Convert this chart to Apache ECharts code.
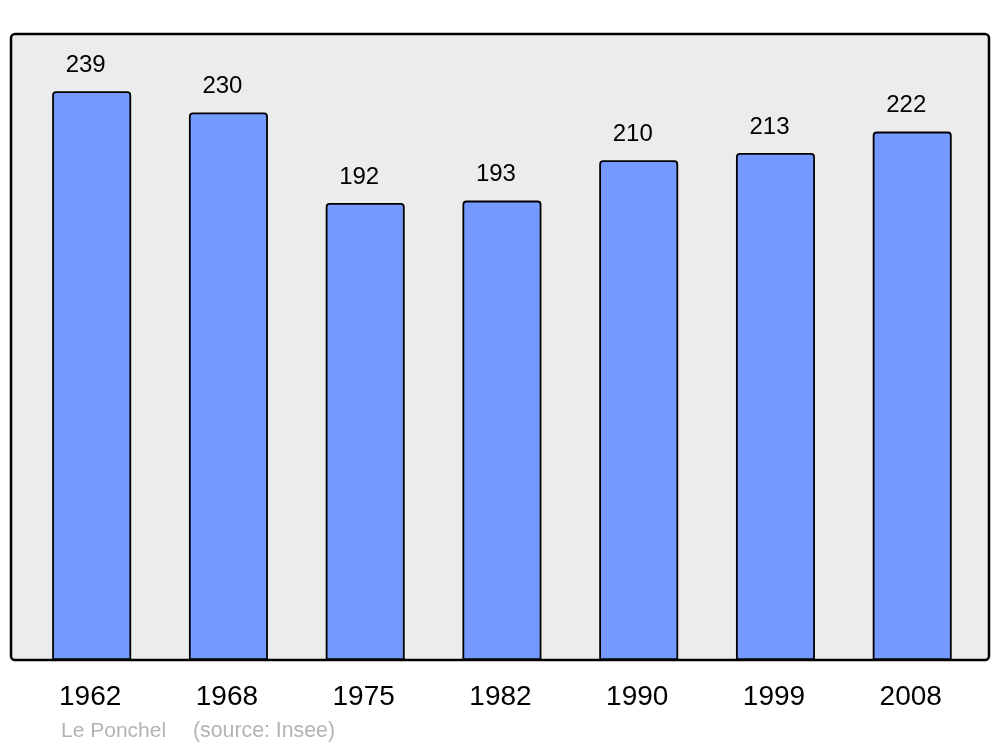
<!DOCTYPE html>
<html><head><meta charset="utf-8">
<script src="https://cdn.jsdelivr.net/npm/echarts@6/dist/echarts.min.js"></script>
<style>html,body{margin:0;padding:0;background:#fff}#c{width:1000px;height:747px}</style>
</head><body><div id="c"></div>
<script>
const years = ['1962','1968','1975','1982','1990','1999','2008'];
const population = [239,230,192,193,210,213,222];
const footerPlace = 'Le Ponchel';
const footerSource = '(source: Insee)';

const chart = echarts.init(document.getElementById('c'), null, {renderer:'canvas'});
chart.setOption({
  animation:false,
  backgroundColor:'#ffffff',
  grid:{left:23.3, width:957.3, top:34, height:626},
  xAxis:{type:'category', data:years,
    axisLine:{show:false}, axisTick:{show:false},
    axisLabel:{color:'#000', fontSize:28, fontFamily:'Liberation Sans, Arial, sans-serif', margin:23, padding:[0,3,0,0]}},
  yAxis:{type:'value', min:0, max:263, show:false, splitLine:{show:false}},
  graphic:[
    {type:'rect', z:-10, shape:{x:11,y:34,width:978,height:626,r:4},
     style:{fill:'#ececec', stroke:'#000', lineWidth:2.5}},
    {type:'text', left:61, top:721, style:{text:footerPlace, fill:'#b3b3b3', font:'21px Liberation Sans, Arial, sans-serif'}},
    {type:'text', left:193, top:721, style:{text:footerSource, fill:'#b3b3b3', font:'21.3px Liberation Sans, Arial, sans-serif'}}
  ],
  series:[{type:'bar', data:population, barWidth:79,
    itemStyle:{color:'#7499ff', borderColor:'#000', borderWidth:1.8, borderRadius:[3,3,0,0]},
    label:{show:true, position:'top', distance:14, offset:[-6,0], color:'#000', fontSize:24,
      fontFamily:'Liberation Sans, Arial, sans-serif'}
  }]
});
</script></body></html>
